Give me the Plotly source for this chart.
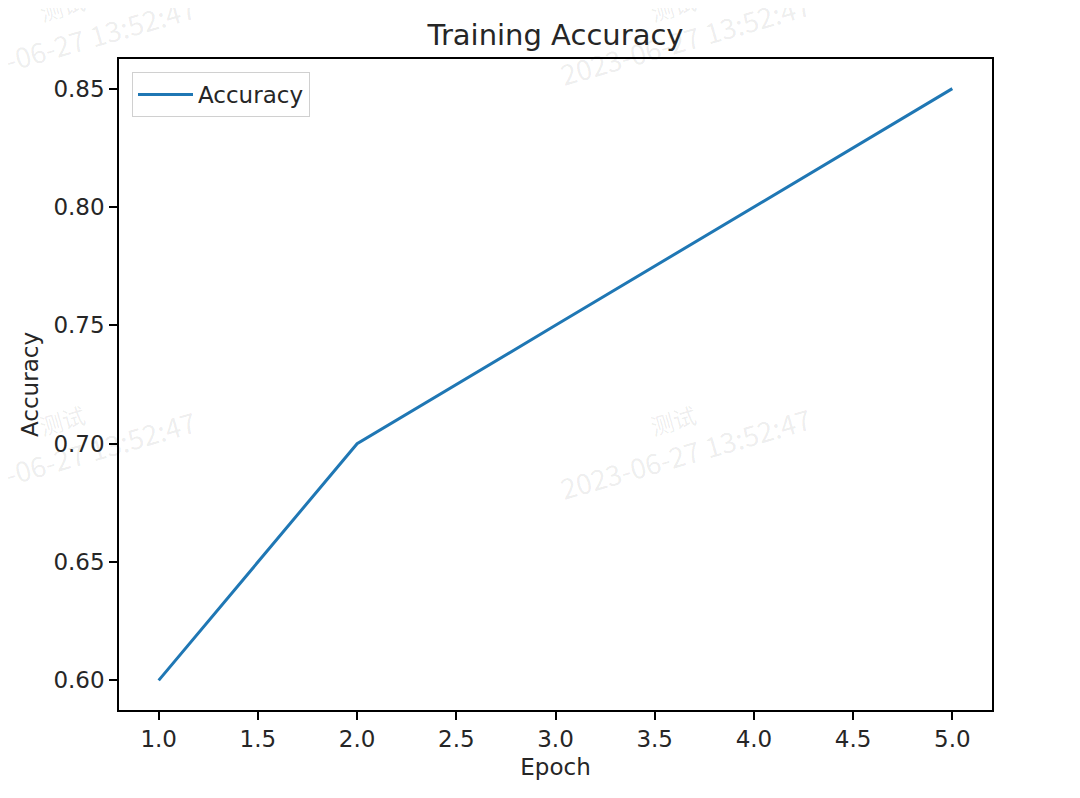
import plotly.graph_objects as go

epochs = [1, 2, 3, 4, 5]
accuracy = [0.60, 0.70, 0.75, 0.80, 0.85]
x_ticks = [1.0, 1.5, 2.0, 2.5, 3.0, 3.5, 4.0, 4.5, 5.0]
y_ticks = [0.60, 0.65, 0.70, 0.75, 0.80, 0.85]

FONT = "DejaVu Sans"
OFF = 8  # browser body margin
W, H = 1080 - OFF, 798 - OFF
L, R, T, B = 119 - OFF, 88, 59 - OFF, 88
PW, PH = W - L - R, H - T - B

fig = go.Figure()
fig.add_trace(go.Scatter(x=epochs, y=accuracy, mode="lines", name="Accuracy",
                         line=dict(color="#1f77b4", width=3)))

def px2paper(px, py):
    # px, py in screen pixels
    return (px - OFF - L) / PW, (H - B - (py - OFF)) / PH

annotations = []
for (dx, dy), (cx, cy) in [((685, 453), (673, 420)), ((70, 456), (62, 420)),
                           ((685, 39), (673, 6)), ((70, 42), (62, 6))]:
    x, y = px2paper(dx, dy)
    annotations.append(dict(x=x, y=y, xref="paper", yref="paper", text="2023-06-27 13:52:47",
                            xanchor="center", yanchor="middle",
                            showarrow=False, textangle=-16,
                            font=dict(family="Noto Sans CJK SC", size=28, color="rgba(0,0,0,0.08)")))
    x, y = px2paper(cx, cy)
    annotations.append(dict(x=x, y=y, xref="paper", yref="paper", text="测试",
                            xanchor="center", yanchor="middle",
                            showarrow=False, textangle=-16,
                            font=dict(family="Noto Sans CJK SC", size=23, color="rgba(0,0,0,0.08)")))

lx, ly = px2paper(132, 72)
fig.update_layout(
    width=W, height=H,
    margin=dict(l=L, r=R, t=T, b=B),
    paper_bgcolor="white", plot_bgcolor="white",
    font=dict(family=FONT, color="#262626", size=23),
    title=dict(text="Training Accuracy", x=(L + PW / 2) / W, xanchor="center",
               y=1 - (35 - OFF) / H, yanchor="middle", font=dict(size=29, color="#262626")),
    showlegend=True,
    legend=dict(x=lx, y=ly, xanchor="left", yanchor="top", itemwidth=55,
                entrywidth=190, entrywidthmode="pixels",
                bordercolor="#d0d0d0", borderwidth=1, bgcolor="rgba(255,255,255,0.8)",
                font=dict(size=23)),
    xaxis=dict(range=[0.8, 5.2], tickvals=x_ticks, ticktext=[f"{v:.1f}" for v in x_ticks],
               showgrid=False, zeroline=False, showline=True, linecolor="black", linewidth=1.5,
               mirror=True, ticks="outside", ticklen=8, tickwidth=1.5, tickcolor="black",
               title=dict(text="Epoch", standoff=8, font=dict(size=23))),
    yaxis=dict(range=[0.5875, 0.8625], tickvals=y_ticks, ticktext=[f"{v:.2f}" for v in y_ticks],
               showgrid=False, zeroline=False, showline=True, linecolor="black", linewidth=1.5,
               mirror=True, ticks="outside", ticklen=8, tickwidth=1.5, tickcolor="black",
               title=dict(text="Accuracy", standoff=8, font=dict(size=23))),
    annotations=annotations,
)

fig.write_html("out.html")
